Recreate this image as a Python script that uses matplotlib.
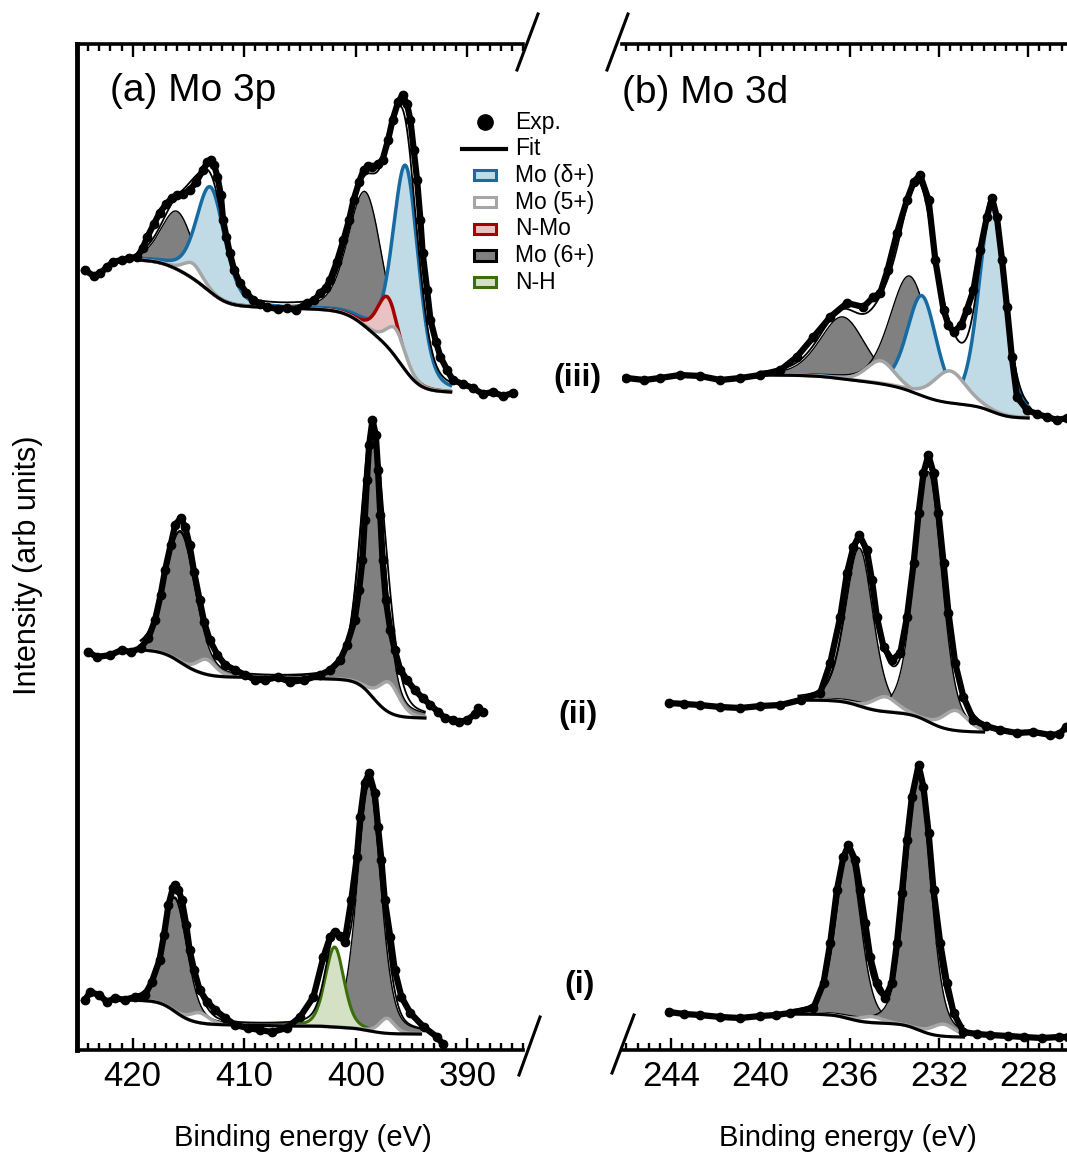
import numpy as np
import matplotlib
matplotlib.use('Agg')
import matplotlib.pyplot as plt
from matplotlib.lines import Line2D
from matplotlib.patches import Rectangle
from matplotlib.ticker import MultipleLocator

# ---- experimental traces (binding energy in eV, intensity in arb. units) ----
# Mo 3p
mo3p_iii_be = [424.3, 423.5, 422.9, 422.3, 421.8, 421.0, 420.3, 419.6, 419.1, 418.7,
               418.1, 417.6, 417.0, 416.5, 416.0, 415.5, 414.9, 414.3, 413.7, 413.3,
               413.0, 412.7, 412.4, 412.1, 411.9, 411.6, 411.3, 410.9, 410.4, 409.8,
               409.2, 408.6, 408.0, 407.0, 406.2, 405.4, 404.4, 403.7, 403.2, 402.7,
               402.3, 401.7, 401.1, 400.6, 400.2, 399.7, 399.3, 398.9, 398.5, 398.0,
               397.6, 397.1, 396.7, 396.2, 395.8, 395.4, 395.1, 394.8, 394.5, 394.2,
               394.0, 393.6, 393.3, 392.8, 392.4, 391.8, 391.3, 390.4, 389.5, 388.6,
               387.7, 386.8, 385.9]
mo3p_iii_int = [78.0, 77.4, 77.7, 78.3, 78.8, 79.0, 79.2, 79.3, 80.2, 81.3,
                82.6, 83.7, 84.6, 85.2, 85.5, 85.6, 86.0, 86.8, 88.0, 88.8,
                89.0, 88.5, 87.3, 85.5, 83.0, 81.3, 79.7, 78.0, 76.7, 75.7,
                75.0, 74.6, 74.3, 74.1, 74.2, 74.0, 74.7, 75.0, 75.7, 76.2,
                77.0, 78.8, 81.0, 83.0, 85.0, 86.8, 88.0, 88.4, 88.3, 88.6,
                89.0, 91.0, 93.0, 94.8, 95.5, 94.6, 93.0, 90.0, 87.0, 83.0,
                79.7, 76.0, 73.0, 70.8, 69.3, 68.0, 67.0, 66.6, 66.2, 65.6,
                65.8, 65.4, 65.7]

mo3p_ii_be = [424.0, 423.2, 422.0, 421.0, 420.2, 419.3, 418.6, 418.0, 417.5, 417.1,
              416.6, 416.2, 415.7, 415.3, 414.9, 414.5, 414.0, 413.6, 413.1, 412.4,
              411.7, 410.8, 409.9, 409.0, 408.1, 407.0, 405.9, 404.6, 403.2, 402.3,
              401.4, 400.8, 400.1, 399.7, 399.4, 399.2, 399.0, 398.8, 398.5, 398.2,
              398.0, 397.8, 397.6, 397.3, 396.9, 396.5, 396.0, 395.4, 394.7, 394.0,
              393.3, 392.6, 392.0, 391.3, 390.7, 390.0, 389.3, 389.0, 388.6]
mo3p_ii_int = [39.8, 39.3, 39.5, 40.0, 39.8, 40.2, 41.2, 43.0, 45.5, 48.0,
               50.5, 52.5, 53.2, 52.3, 50.5, 47.8, 45.0, 42.8, 41.0, 39.5,
               38.5, 38.0, 37.5, 37.0, 37.0, 37.3, 36.8, 37.0, 37.5, 38.0,
               39.0, 40.5, 43.0, 46.0, 49.0, 53.0, 57.0, 60.5, 63.0, 61.5,
               58.0, 53.5, 49.0, 45.0, 42.0, 40.0, 38.0, 37.0, 36.0, 35.2,
               34.5, 33.8, 33.2, 33.0, 32.8, 33.0, 33.6, 34.2, 33.8]

mo3p_i_be = [424.3, 423.8, 423.0, 422.3, 421.6, 420.7, 419.8, 418.9, 418.3, 417.6,
             417.2, 416.8, 416.4, 416.2, 415.9, 415.6, 415.2, 414.9, 414.5, 414.0,
             413.3, 412.6, 411.7, 410.8, 409.7, 408.6, 407.5, 406.2, 405.0, 403.8,
             402.9, 402.3, 401.9, 401.4, 401.0, 400.4, 399.9, 399.6, 399.2, 398.8,
             398.3, 398.0, 397.7, 397.4, 396.9, 396.5, 395.9, 395.1, 393.9, 392.7,
             392.2]
mo3p_i_int = [5.0, 5.8, 5.5, 4.8, 5.2, 5.0, 5.3, 5.5, 6.8, 9.0,
              11.5, 14.5, 16.2, 16.5, 16.0, 15.0, 12.5, 10.0, 8.0, 6.0,
              4.8, 4.0, 3.2, 2.5, 2.2, 2.0, 1.8, 2.2, 3.3, 5.3,
              9.3, 11.3, 11.8, 11.4, 10.8, 15.0, 19.3, 23.3, 26.7, 27.7,
              25.7, 22.3, 19.0, 15.0, 11.3, 8.0, 5.3, 3.7, 2.3, 1.3,
              0.6]

# Mo 3d
mo3d_iii_be = [246.0, 245.2, 244.5, 243.6, 242.7, 241.8, 240.9, 240.0, 239.1, 238.37,
               237.62, 236.87, 236.12, 235.38, 234.93, 234.63, 234.3, 233.88, 233.43, 233.13,
               232.84, 232.46, 232.16, 231.79, 231.57, 231.34, 231.0, 230.75, 230.45, 230.15,
               229.85, 229.62, 229.4, 229.17, 228.95, 228.73, 228.5, 228.05, 227.6, 227.15,
               226.7, 226.25]
mo3d_iii_int = [67.2, 67.0, 67.2, 67.5, 67.4, 67.0, 67.2, 67.5, 68.0, 69.3,
                71.3, 73.3, 74.7, 74.3, 75.3, 75.7, 78.0, 81.7, 85.0, 86.8,
                87.5, 85.0, 79.0, 74.0, 72.5, 71.8, 72.5, 74.0, 76.0, 80.0,
                83.3, 85.2, 83.3, 79.0, 74.3, 69.3, 65.3, 64.0, 63.6, 63.3,
                63.0, 63.2]

mo3d_ii_be = [244.1, 243.4, 242.7, 241.8, 240.9, 240.0, 239.1, 238.2, 237.32, 236.87,
              236.42, 236.12, 235.83, 235.56, 235.23, 235.0, 234.78, 234.48, 234.1, 233.73,
              233.43, 233.13, 232.91, 232.69, 232.47, 232.24, 232.02, 231.79, 231.57, 231.27,
              230.9, 230.45, 229.9, 229.25, 228.5, 227.76, 227.0, 226.6, 226.3]
mo3d_ii_int = [34.7, 34.6, 34.5, 34.3, 34.2, 34.4, 34.5, 35.0, 35.7, 38.7,
               43.3, 47.7, 50.3, 51.5, 50.0, 47.0, 43.3, 40.3, 39.0, 39.7,
               43.3, 48.7, 53.7, 57.7, 59.5, 57.7, 53.7, 48.7, 43.7, 38.7,
               35.3, 33.0, 32.4, 32.0, 31.7, 31.8, 31.5, 31.6, 32.3]

mo3d_i_be = [244.1, 243.4, 242.7, 241.8, 240.9, 240.0, 239.3, 238.67, 237.62, 237.17,
             236.87, 236.57, 236.28, 236.05, 235.75, 235.53, 235.3, 235.08, 234.78, 234.41,
             234.11, 233.88, 233.66, 233.43, 233.21, 232.91, 232.69, 232.46, 232.24, 231.94,
             231.64, 231.34, 230.9, 230.3, 229.7, 228.9, 228.2, 227.4, 226.6, 226.2]
mo3d_i_int = [3.8, 3.6, 3.5, 3.3, 3.2, 3.4, 3.5, 3.7, 4.2, 6.7,
              10.7, 16.0, 19.3, 20.5, 19.0, 16.0, 12.7, 9.3, 6.7, 5.2,
              6.7, 10.7, 15.7, 21.0, 25.3, 28.5, 26.3, 21.7, 16.0, 10.7,
              6.7, 3.7, 1.8, 1.6, 1.5, 1.4, 1.3, 1.2, 1.3, 1.3]

# ---- fitted components: kind, centre (eV), height above background, FWHM (eV) ----
# background levels: [high-BE end, (between doublets,) low-BE end]
mo3p_iii_kind = ['6+', 'd+', '5+', '6+', 'd+', 'NMo', '5+']
mo3p_iii_center = [416.0, 413.0, 414.6, 399.1, 395.5, 397.1, 396.4]
mo3p_iii_height = [5.8, 10.5, 1.5, 13.5, 20.5, 5.0, 2.8]
mo3p_iii_fwhm = [3.4, 3.0, 2.0, 3.6, 2.7, 2.2, 2.0]
mo3p_iii_bg = [79.0, 74.2, 65.8]
mo3p_iii_split = 406.5
mo3p_iii_window = [391.5, 419.6]

mo3p_ii_kind = ['6+', '5+', '6+', '5+']
mo3p_ii_center = [415.7, 413.4, 398.5, 397.0]
mo3p_ii_height = [13.0, 1.5, 26.5, 3.0]
mo3p_ii_fwhm = [3.2, 2.0, 2.5, 2.2]
mo3p_ii_bg = [40.0, 37.2, 33.2]
mo3p_ii_split = 406.5
mo3p_ii_window = [393.8, 419.3]

mo3p_i_kind = ['6+', '5+', '6+', 'NH', '5+']
mo3p_i_center = [416.2, 414.0, 398.8, 401.9, 397.2]
mo3p_i_height = [11.3, 1.0, 24.5, 8.0, 1.5]
mo3p_i_fwhm = [2.6, 2.0, 2.5, 2.0, 1.6]
mo3p_i_bg = [5.0, 2.4, 1.6]
mo3p_i_split = 406.0
mo3p_i_window = [394.2, 420.7]

mo3d_iii_kind = ['6+', '6+', 'd+', 'd+', '5+', '5+']
mo3d_iii_center = [236.3, 233.3, 232.76, 229.62, 234.6, 231.5]
mo3d_iii_height = [6.2, 11.5, 10.0, 20.7, 2.3, 3.2]
mo3d_iii_fwhm = [2.4, 2.1, 1.55, 1.35, 1.5, 1.7]
mo3d_iii_bg = [67.5, 63.2]
mo3d_iii_split = None
mo3d_iii_window = [228.0, 240.0]

mo3d_ii_kind = ['6+', '5+', '6+', '5+']
mo3d_ii_center = [235.56, 234.4, 232.47, 231.25]
mo3d_ii_height = [15.8, 1.5, 25.0, 2.0]
mo3d_ii_fwhm = [1.45, 1.3, 1.45, 1.3]
mo3d_ii_bg = [35.0, 31.8]
mo3d_ii_split = None
mo3d_ii_window = [230.0, 238.3]

mo3d_i_kind = ['6+', '5+', '6+', '5+']
mo3d_i_center = [236.05, 235.0, 232.91, 231.8]
mo3d_i_height = [16.6, 0.6, 25.3, 1.2]
mo3d_i_fwhm = [1.3, 1.2, 1.3, 1.2]
mo3d_i_bg = [3.6, 1.3]
mo3d_i_split = None
mo3d_i_window = [230.9, 238.7]

legend_labels = ['Exp.', 'Fit', 'Mo (δ+)', 'Mo (5+)', 'N-Mo', 'Mo (6+)', 'N-H']
legend_kinds = ['d+', '5+', 'NMo', '6+', 'NH']
sample_labels = ['(iii)', '(ii)', '(i)']

STYLE = {
    '6+': dict(face='#808080', edge='#000000', lw=1.0),
    'd+': dict(face='#c1dbe6', edge='#176ba0', lw=2.5),
    '5+': dict(face='#ffffff', edge='#a6a6a6', lw=2.5),
    'NMo': dict(face='#e9c3c3', edge='#a50000', lw=2.5),
    'NH': dict(face='#d5e1c4', edge='#3d6e0c', lw=2.2),
}
DRAW_ORDER = ['6+', 'NH', 'd+', 'NMo', '5+']

W, H = 1067, 1156
plt.rcParams['font.family'] = ['Liberation Sans', 'DejaVu Sans']


def fx(px):
    return px / W


def fy(py):
    return 1 - py / H


def pseudo_voigt(x, c, h, w, eta=0.3):
    d = (x - c) / w
    return h * ((1 - eta) * np.exp(-4 * np.log(2) * d ** 2) + eta / (1 + 4 * d ** 2))


def shirley(x, total, hi, lo):
    cum = np.concatenate([[0.0], np.cumsum(0.5 * (total[1:] + total[:-1]) * np.diff(x))])
    return lo + (hi - lo) * cum / cum[-1]


def background(x, total, levels, split):
    if split is None:
        return shirley(x, total, levels[0], levels[1])
    hi, mid, lo = levels
    bg = np.empty_like(x)
    low = x <= split
    bg[low] = shirley(x[low], total[low], mid, lo)
    bg[~low] = shirley(x[~low], total[~low], hi, mid)
    return bg


def draw_spectrum(ax, be, inten, kinds, centers, heights, fwhms, levels, split, window):
    x = np.linspace(window[0], window[1], 800)
    comps = [pseudo_voigt(x, c, h, w) for c, h, w in zip(centers, heights, fwhms)]
    total = np.sum(comps, axis=0)
    bg = background(x, total, levels, split)

    z = 2.0
    for kind in DRAW_ORDER:
        for k, comp in zip(kinds, comps):
            if k != kind:
                continue
            st = STYLE[k]
            ax.fill_between(x, bg, bg + comp, color=st['face'], lw=0, zorder=z)
            ax.plot(x, bg + comp, color=st['edge'], lw=st['lw'], zorder=z + 0.1)
            z += 0.2
    ax.plot(x, bg, color='k', lw=2.2, zorder=6)
    ax.plot(x, bg + total, color='k', lw=1.3, zorder=7)
    ax.plot(be, inten, '-o', color='k', lw=4.5, ms=6, zorder=8)


def setup_axis(ax, xlim, major, minor):
    ax.set_xlim(*xlim)
    ax.set_ylim(0, 100.6)
    ax.xaxis.set_major_locator(MultipleLocator(major))
    ax.xaxis.set_minor_locator(MultipleLocator(minor))
    ax.tick_params(axis='x', which='both', direction='in', top=True, bottom=True,
                   labelsize=25, width=1.7, pad=7)
    ax.tick_params(axis='x', which='major', length=9)
    ax.tick_params(axis='x', which='minor', length=5)
    ax.set_yticks([])
    for s in ('top', 'bottom'):
        ax.spines[s].set_linewidth(2.6)
    ax.spines['right'].set_visible(False)
    ax.patch.set_alpha(0)


fig = plt.figure(figsize=(W / 100, H / 100), dpi=100)

ax_l = fig.add_axes([fx(77), fy(1050), fx(523 - 77), (1050 - 44) / H])
ax_r = fig.add_axes([fx(622), fy(1050), fx(1075 - 622), (1050 - 44) / H])

setup_axis(ax_l, (425, 385), 10, 1)
ax_l.spines['left'].set_linewidth(3.5)
setup_axis(ax_r, (246.2, 225.9), 4, 0.5)
ax_r.spines['left'].set_visible(False)

draw_spectrum(ax_l, mo3p_iii_be, mo3p_iii_int, mo3p_iii_kind, mo3p_iii_center,
              mo3p_iii_height, mo3p_iii_fwhm, mo3p_iii_bg, mo3p_iii_split, mo3p_iii_window)
draw_spectrum(ax_l, mo3p_ii_be, mo3p_ii_int, mo3p_ii_kind, mo3p_ii_center,
              mo3p_ii_height, mo3p_ii_fwhm, mo3p_ii_bg, mo3p_ii_split, mo3p_ii_window)
draw_spectrum(ax_l, mo3p_i_be, mo3p_i_int, mo3p_i_kind, mo3p_i_center,
              mo3p_i_height, mo3p_i_fwhm, mo3p_i_bg, mo3p_i_split, mo3p_i_window)
draw_spectrum(ax_r, mo3d_iii_be, mo3d_iii_int, mo3d_iii_kind, mo3d_iii_center,
              mo3d_iii_height, mo3d_iii_fwhm, mo3d_iii_bg, mo3d_iii_split, mo3d_iii_window)
draw_spectrum(ax_r, mo3d_ii_be, mo3d_ii_int, mo3d_ii_kind, mo3d_ii_center,
              mo3d_ii_height, mo3d_ii_fwhm, mo3d_ii_bg, mo3d_ii_split, mo3d_ii_window)
draw_spectrum(ax_r, mo3d_i_be, mo3d_i_int, mo3d_i_kind, mo3d_i_center,
              mo3d_i_height, mo3d_i_fwhm, mo3d_i_bg, mo3d_i_split, mo3d_i_window)

# axis break marks
for (x0, y0, x1, y1) in [(517, 70, 538, 14), (607, 70, 628, 14),
                         (519, 1075, 540, 1017), (612, 1073, 634, 1015)]:
    fig.add_artist(Line2D([fx(x0), fx(x1)], [fy(y0), fy(y1)], color='k', lw=2.2,
                          transform=fig.transFigure))

# panel titles, sample labels, axis labels
fig.text(fx(110), fy(91), '(a) Mo 3p', fontsize=28, va='center', ha='left')
fig.text(fx(622), fy(93), '(b) Mo 3d', fontsize=28, va='center', ha='left')
for lab, (px, py) in zip(sample_labels, [(577, 378), (578, 715), (580, 985)]):
    fig.text(fx(px), fy(py), lab, fontsize=23, fontweight='bold', ha='center', va='center')
fig.text(fx(28), fy(565), 'Intensity (arb units)', rotation=90, fontsize=22,
         ha='center', va='center')
fig.text(fx(303), fy(1138), 'Binding energy (eV)', fontsize=21, ha='center', va='center')
fig.text(fx(848), fy(1138), 'Binding energy (eV)', fontsize=21, ha='center', va='center')

# legend (drawn by hand to match the compact layout)
row_y = [122 + 26.7 * i for i in range(len(legend_labels))]
fig.add_artist(Line2D([fx(485)], [fy(row_y[0])], marker='o', ms=11, color='k',
                      transform=fig.transFigure))
fig.add_artist(Line2D([fx(462), fx(506)], [fy(row_y[1]), fy(row_y[1])], color='k', lw=3,
                      transform=fig.transFigure))
for kind, py in zip(legend_kinds, row_y[2:]):
    st = STYLE[kind]
    fig.add_artist(Rectangle((fx(474), fy(py + 5)), fx(22), 10 / H,
                             facecolor=st['face'], edgecolor=st['edge'], lw=2.2,
                             transform=fig.transFigure))
for lab, py in zip(legend_labels, row_y):
    fig.text(fx(515), fy(py), lab, fontsize=16.5, va='center', ha='left')

fig.savefig('out.png', dpi=100)
